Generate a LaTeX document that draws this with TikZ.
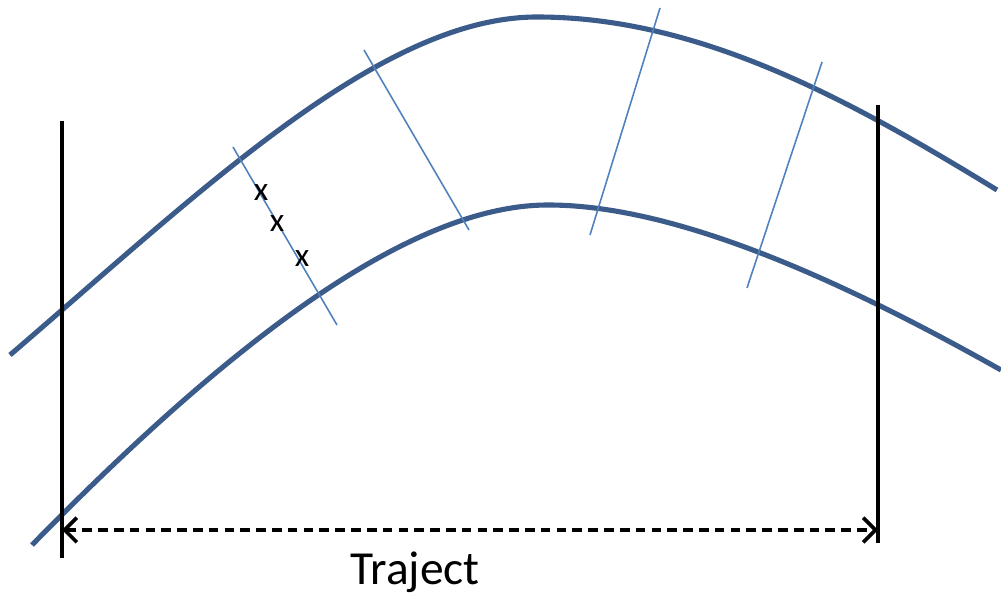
\documentclass[tikz,border=0pt]{standalone}
\usepackage{fontspec}
\setmainfont{Carlito}
\usetikzlibrary{arrows.meta}
\definecolor{roadblue}{RGB}{59,92,138}
\definecolor{cutblue}{RGB}{79,129,189}
\tikzset{
  edge/.style={roadblue, line width=2.9pt},
  cut/.style={cutblue, line width=0.9pt},
  bound/.style={black, line width=2.1pt},
  span/.style={black, line width=2.1pt, dash pattern=on 5.5pt off 3.5pt,
    {Straight Barb[length=7pt,width=14pt,line width=2.1pt]}-{Straight Barb[length=7pt,width=14pt,line width=2.1pt]}},
  xmark/.style={font=\fontsize{19}{19}\selectfont, inner sep=0pt}
}
\begin{document}
\begin{tikzpicture}[x=0.02cm,y=-0.02cm]
\useasboundingbox (0,0) rectangle (1001,597);
% road edges
\draw[edge] (10,355) .. controls (200,192) and (380,17) .. (537,17)
            .. controls (700,17) and (850,100) .. (997,190);
\draw[edge] (32,545) .. controls (250,322) and (420,205) .. (548,205)
            .. controls (680,205) and (850,285) .. (1001,370);
% cross sections
\draw[cut] (233,147) -- (337,325);
\draw[cut] (364,50) -- (469,230);
\draw[cut] (660,8) -- (590,235);
\draw[cut] (822,62) -- (747,288);
\node[xmark] (x1) at (261,193) {x};
\node[xmark] (x2) at (277,224) {x};
\node[xmark] (x3) at (302,259) {x};
% boundaries
\coordinate (la) at (62,121);
\coordinate (lb) at (62,558);
\coordinate (ra) at (878,105);
\coordinate (rb) at (878,543);
\draw[bound] (la) -- (lb);
\draw[bound] (ra) -- (rb);
\coordinate (sl) at (62,530);
\coordinate (sr) at (878,530);
\draw[span] (sl) -- (sr);
\node[font=\fontsize{27}{27}\selectfont] (traj) at (415,572) {Traject};
\end{tikzpicture}
\end{document}
